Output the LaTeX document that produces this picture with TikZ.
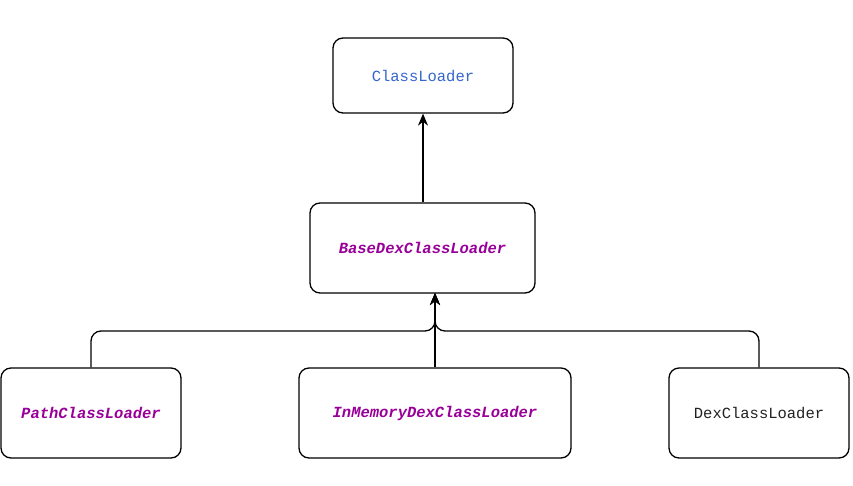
\documentclass[tikz,border=0pt]{standalone}
\usepackage{fontspec}
\setmonofont{Liberation Mono}
\usetikzlibrary{arrows.meta}
\definecolor{clblue}{HTML}{3366CC}
\definecolor{clpurple}{HTML}{990099}
\definecolor{cldark}{HTML}{222222}
\begin{document}
\begin{tikzpicture}[x=1pt,y=-1pt,
  box/.style={draw=black,line width=1.3pt,rounded corners=10pt,fill=white,inner sep=0pt,anchor=center},
  lbl/.style={font=\fontsize{15.5}{18}\selectfont\ttfamily},
  conn/.style={line width=1.3pt,rounded corners=10pt},
  tip/.style={-{Stealth[length=12pt,width=10pt]}}]
\useasboundingbox (0,0) rectangle (853,486);
\node[box,minimum width=180pt,minimum height=75pt] (cl) at (423,75.5) {};
\node[lbl,text=clblue] at (cl.center) {ClassLoader};
\node[box,minimum width=225pt,minimum height=90pt] (base) at (422.5,248) {};
\node[lbl,text=clpurple,font=\fontsize{15.5}{18}\selectfont\ttfamily\bfseries\itshape] at (base.center) {BaseDexClassLoader};
\node[box,minimum width=180pt,minimum height=90pt] (path) at (91,413) {};
\node[lbl,text=clpurple,font=\fontsize{15.5}{18}\selectfont\ttfamily\bfseries\itshape] at (path.center) {PathClassLoader};
\node[box,minimum width=272pt,minimum height=90pt] (mem) at (435,413) {};
\node[lbl,text=clpurple,font=\fontsize{15.5}{18}\selectfont\ttfamily\bfseries\itshape] at (mem.center) {InMemoryDexClassLoader};
\node[box,minimum width=180pt,minimum height=90pt] (dex) at (759,413) {};
\node[lbl,text=cldark] at (dex.center) {DexClassLoader};
\coordinate (hit) at (435,293);
\draw[conn,tip] (base.north -| cl.south) -- (cl.south);
\draw[conn,tip] (path.north) -- (91,331) -- (435,331) -- (hit);
\draw[conn,tip] (dex.north) -- (759,331) -- (435,331) -- (hit);
\draw[conn,tip] (mem.north) -- (hit);
\end{tikzpicture}
\end{document}
